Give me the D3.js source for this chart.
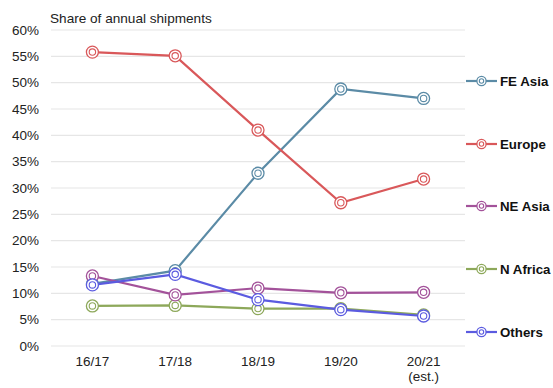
<!DOCTYPE html>
<html><head><meta charset="utf-8">
<script src="https://cdn.jsdelivr.net/npm/d3@7"></script>
<style>body{margin:0;background:#fff;}svg{display:block;font-family:"Liberation Sans",Arial,sans-serif;}</style>
</head><body>
<svg id="c" width="553" height="388"></svg>
<script>
const categories = ["16/17", "17/18", "18/19", "19/20", "20/21"];
const categorySub = ["", "", "", "", "(est.)"];
const seriesNames = ["FE Asia", "Europe", "NE Asia", "N Africa", "Others"];
const seriesColors = ["#5b8ba6", "#d9585a", "#a3529a", "#8da85a", "#5b5be0"];
const feAsia  = [11.8, 14.3, 32.8, 48.8, 47.0];
const europe  = [55.8, 55.1, 41.0, 27.2, 31.7];
const neAsia  = [13.3, 9.7, 11.0, 10.1, 10.2];
const nAfrica = [7.6, 7.7, 7.1, 7.1, 5.9];
const others  = [11.6, 13.6, 8.8, 6.9, 5.7];
const yTicks = [0, 5, 10, 15, 20, 25, 30, 35, 40, 45, 50, 55, 60];
const title = "Share of annual shipments";

const seriesValues = [feAsia, europe, neAsia, nAfrica, others];
const svg = d3.select("#c");
const mLeft = 51, mRight = 465, mTop = 30, mBottom = 346;

const x = d3.scaleBand().domain(categories).range([mLeft, mRight]).padding(0);
const y = d3.scaleLinear().domain([0, 60]).range([mBottom, mTop]);

// gridlines
svg.append("g").selectAll("line").data(yTicks).join("line")
  .attr("x1", mLeft).attr("x2", mRight)
  .attr("y1", d => y(d)).attr("y2", d => y(d))
  .attr("stroke", "#e6e6e6").attr("stroke-width", 1.2);

// y axis labels
const yAxis = d3.axisLeft(y).tickValues(yTicks).tickFormat(d => d + "%").tickSize(0).tickPadding(0);
const ya = svg.append("g").attr("transform", `translate(${mLeft - 12},0)`).call(yAxis);
ya.select(".domain").remove();
ya.selectAll("text").attr("font-size", 13.5).attr("fill", "#222").attr("font-family", "Liberation Sans, Arial, sans-serif");

// x axis labels
const xAxis = d3.axisBottom(x).tickSize(0).tickPadding(0);
const xa = svg.append("g").attr("transform", `translate(0,${mBottom + 8})`).call(xAxis);
xa.select(".domain").remove();
xa.selectAll("text").attr("font-size", 13.5).attr("fill", "#222").attr("font-family", "Liberation Sans, Arial, sans-serif").attr("dy", "0.9em");
xa.selectAll(".tick").append("text")
  .text((d, i) => categorySub[i])
  .attr("y", 0).attr("dy", "2.0em").attr("text-anchor", "middle")
  .attr("font-size", 13.5).attr("fill", "#222");

// title
svg.append("text").attr("x", 50).attr("y", 23).text(title)
  .attr("font-size", 13.6).attr("fill", "#222");

const cx = d => x(d) + x.bandwidth() / 2;
const line = d3.line().x((d, i) => cx(categories[i])).y(d => y(d));

function marker(g, px, py, color, r1, r2) {
  g.append("circle").attr("cx", px).attr("cy", py).attr("r", r1)
    .attr("fill", "#fff").attr("stroke", color).attr("stroke-width", 1.3);
  g.append("circle").attr("cx", px).attr("cy", py).attr("r", r2)
    .attr("fill", "none").attr("stroke", color).attr("stroke-width", 1.1);
}

const drawOrder = [0, 1, 3, 2, 4];
drawOrder.forEach(si => {
  const g = svg.append("g");
  g.append("path").datum(seriesValues[si]).attr("d", line)
    .attr("fill", "none").attr("stroke", seriesColors[si]).attr("stroke-width", 2.2);
  seriesValues[si].forEach((v, i) => marker(g, cx(categories[i]), y(v), seriesColors[si], 6, 3.2));
});

// legend
const legY = [81, 144, 206, 269, 332];
seriesNames.forEach((n, i) => {
  const g = svg.append("g");
  g.append("line").attr("x1", 466).attr("x2", 497).attr("y1", legY[i]).attr("y2", legY[i])
    .attr("stroke", seriesColors[i]).attr("stroke-width", 2.2);
  marker(g, 481.5, legY[i], seriesColors[i], 4.6, 2.2);
  g.append("text").attr("x", 500).attr("y", legY[i]).attr("dy", "0.36em")
    .attr("font-size", 13.3).attr("font-weight", "bold").attr("fill", "#111").text(n);
});
</script>
</body></html>
